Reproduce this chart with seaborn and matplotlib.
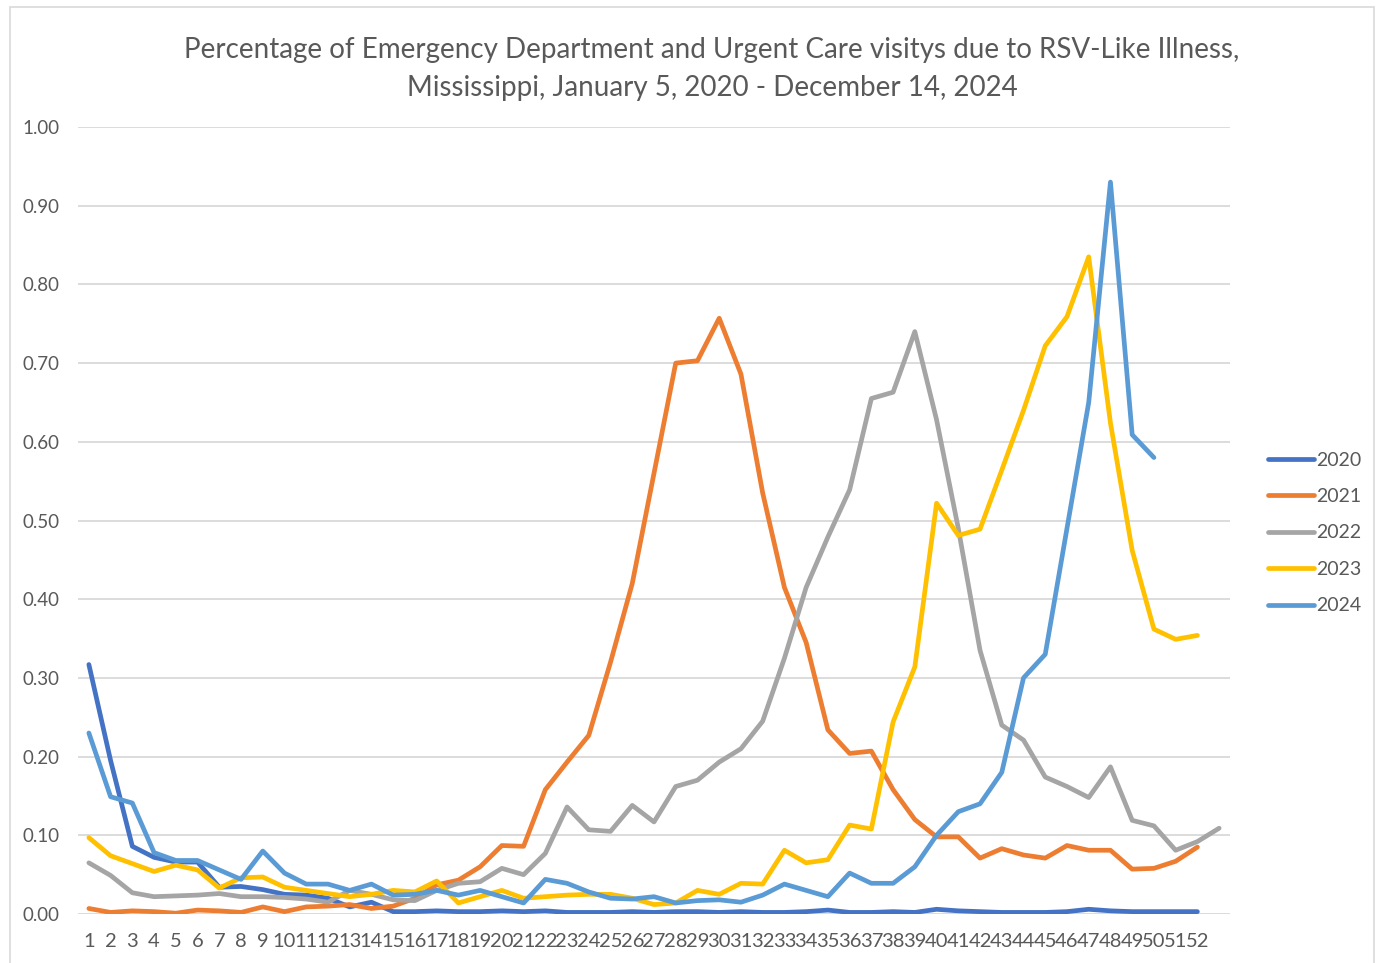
import matplotlib.pyplot as plt
import matplotlib.patches as mpatches
import pandas as pd
import numpy as np
import seaborn as sns

sns.set_theme(style='white')
plt.rcParams['font.family'] = ['Lato', 'DejaVu Sans']

# weekly % of ED/UC visits due to RSV-like illness
y2020 = [0.317, 0.195, 0.086, 0.072, 0.066, 0.066, 0.034, 0.035, 0.031, 0.025,
         0.024, 0.020, 0.009, 0.015, 0.003, 0.003, 0.004, 0.003, 0.003, 0.004,
         0.003, 0.004, 0.002, 0.002, 0.002, 0.003, 0.002, 0.003, 0.003, 0.002,
         0.003, 0.002, 0.002, 0.003, 0.005, 0.002, 0.002, 0.003, 0.002, 0.006,
         0.004, 0.003, 0.002, 0.002, 0.002, 0.003, 0.006, 0.004, 0.003, 0.003,
         0.003, 0.003]
y2021 = [0.007, 0.002, 0.004, 0.003, 0.001, 0.005, 0.004, 0.002, 0.009, 0.003,
         0.009, 0.010, 0.012, 0.007, 0.010, 0.020, 0.037, 0.043, 0.060, 0.087,
         0.086, 0.158, 0.193, 0.227, 0.320, 0.420, 0.560, 0.700, 0.703, 0.757,
         0.686, 0.535, 0.415, 0.345, 0.234, 0.204, 0.207, 0.158, 0.120, 0.098,
         0.098, 0.071, 0.083, 0.075, 0.071, 0.087, 0.081, 0.081, 0.057, 0.058,
         0.067, 0.085]
y2022 = [0.065, 0.049, 0.027, 0.022, 0.023, 0.024, 0.026, 0.022, 0.022, 0.021,
         0.019, 0.015, 0.030, 0.025, 0.018, 0.017, 0.030, 0.039, 0.041, 0.058,
         0.050, 0.077, 0.136, 0.107, 0.105, 0.138, 0.117, 0.162, 0.170, 0.193,
         0.210, 0.245, 0.325, 0.415, 0.479, 0.539, 0.655, 0.663, 0.740, 0.628,
         0.490, 0.335, 0.240, 0.221, 0.174, 0.162, 0.148, 0.187, 0.119, 0.112,
         0.081, 0.092, 0.109]
y2023 = [0.097, 0.074, 0.064, 0.054, 0.062, 0.056, 0.033, 0.046, 0.047, 0.034,
         0.030, 0.026, 0.022, 0.025, 0.030, 0.028, 0.042, 0.014, 0.022, 0.030,
         0.020, 0.022, 0.024, 0.025, 0.025, 0.020, 0.012, 0.014, 0.030, 0.025,
         0.039, 0.038, 0.081, 0.065, 0.069, 0.113, 0.108, 0.244, 0.314, 0.522,
         0.481, 0.489, 0.564, 0.640, 0.722, 0.759, 0.835, 0.624, 0.462, 0.362,
         0.349, 0.354]
y2024 = [0.230, 0.149, 0.141, 0.078, 0.068, 0.068, 0.056, 0.044, 0.080, 0.052,
         0.038, 0.038, 0.030, 0.038, 0.024, 0.025, 0.030, 0.024, 0.030, 0.022,
         0.014, 0.044, 0.039, 0.028, 0.020, 0.019, 0.022, 0.014, 0.017, 0.018,
         0.015, 0.024, 0.038, 0.030, 0.022, 0.052, 0.039, 0.039, 0.060, 0.100,
         0.130, 0.140, 0.180, 0.300, 0.330, 0.490, 0.650, 0.930, 0.609, 0.580]

years = ['2020', '2021', '2022', '2023', '2024']
series = [y2020, y2021, y2022, y2023, y2024]
colors = ['#4472C4', '#ED7D31', '#A5A5A5', '#FFC000', '#5B9BD5']
week_labels = [str(i) for i in range(1, 53)]

rows = []
for yr, vals in zip(years, series):
    for i, v in enumerate(vals):
        rows.append({'Week': i + 1, 'Pct': v, 'Year': yr})
df = pd.DataFrame(rows)

txt = '#595959'
fig = plt.figure(figsize=(13.82, 9.63), dpi=100)
ax = fig.add_axes([78/1382, 49/963, (1230-78)/1382, (914-127)/963])

sns.lineplot(data=df, x='Week', y='Pct', hue='Year', palette=colors,
             hue_order=years, linewidth=3.4, ax=ax, legend=False,
             solid_capstyle='round', solid_joinstyle='round')

ax.set_xlim(0.5, 53.5)
ax.set_ylim(0, 1.0)
ax.set_yticks(np.arange(0, 1.01, 0.1))
ax.set_yticklabels([f'{v:.2f}' for v in np.arange(0, 1.01, 0.1)])
ax.set_xticks(range(1, 53))
ax.set_xticklabels(week_labels)
ax.tick_params(axis='both', length=0, labelcolor=txt)
ax.tick_params(axis='y', pad=13, labelsize=13.5)
ax.tick_params(axis='x', pad=14, labelsize=14.5)
ax.set_xlabel('')
ax.set_ylabel('')
ax.yaxis.grid(True, color='#D9D9D9', linewidth=1.3)
ax.set_axisbelow(True)
for s in ax.spines.values():
    s.set_visible(False)

handles = [plt.Line2D([], [], color=c, linewidth=3.4, solid_capstyle='round')
           for c in colors]
fig.legend(handles, years, loc='center left',
           bbox_to_anchor=(1258/1382, (963-533)/963), frameon=False,
           fontsize=14, labelcolor=txt, handlelength=2.4, handletextpad=0.1,
           labelspacing=1.0, borderpad=0)

fig.text(712/1382, (963-69)/963,
         'Percentage of Emergency Department and Urgent Care visitys due to RSV-Like Illness,\n'
         'Mississippi, January 5, 2020 - December 14, 2024',
         ha='center', va='center', fontsize=20, color=txt, linespacing=1.55)

fig.patches.append(mpatches.Rectangle((10/1382, -0.05), (1374-10)/1382, (963-7)/963 + 0.05,
                                      transform=fig.transFigure, fill=False,
                                      edgecolor='#D9D9D9', linewidth=1.2))

fig.savefig('out.png', dpi=100)
